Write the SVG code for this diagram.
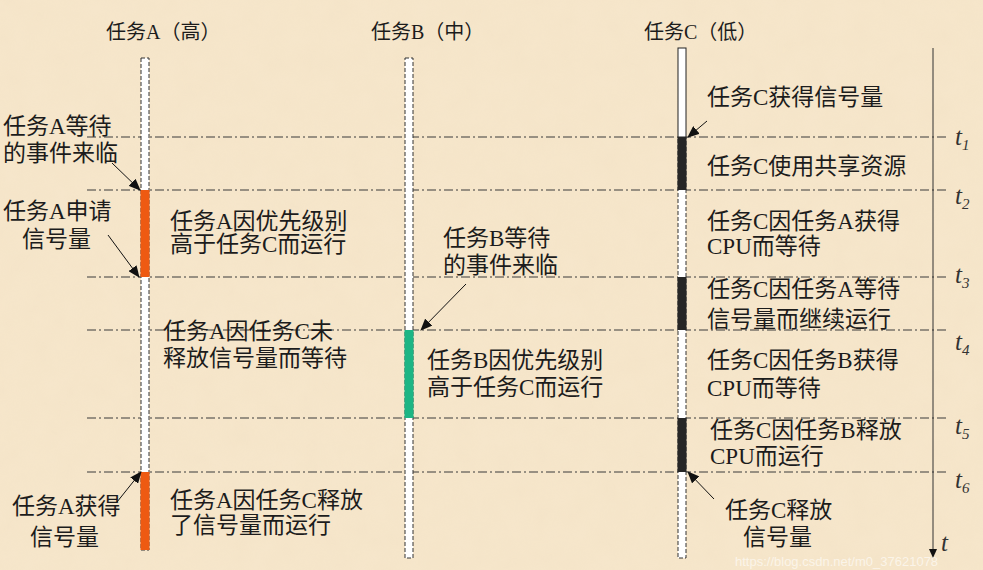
<svg xmlns="http://www.w3.org/2000/svg" width="983" height="570" viewBox="0 0 983 570">
<defs>
<style>
.txt{font-family:"Liberation Serif","Noto Sans CJK SC",serif;font-size:23px;fill:#1c1c1c}
.title{font-size:20px}
.tl{font-family:"Liberation Serif",serif;font-style:italic;font-size:25px;fill:#333}
.sub{font-size:15px}
.dd{stroke:#3a3a3a;stroke-width:1;stroke-dasharray:9 3 2 3;fill:none}
.lane{fill:#fff;stroke:#333;stroke-width:1;stroke-dasharray:4 2}
.solid{fill:#fff;stroke:#222;stroke-width:1}
.orange{fill:#EE5A12}
.green{fill:#1DB584}
.black{fill:#262626}
.arr{stroke:#111;stroke-width:1;fill:none;marker-end:url(#ah)}
.wm{font-family:"Liberation Sans",sans-serif;font-size:13px;fill:#fff;fill-opacity:0.6}
</style>
<marker id="ah" markerUnits="userSpaceOnUse" markerWidth="12" markerHeight="10" refX="11" refY="5" orient="auto"><path d="M0,0 L12,5 L0,10 Z" fill="#111"/></marker>
<filter id="paper" x="0" y="0" width="100%" height="100%">
<feTurbulence type="fractalNoise" baseFrequency="0.04" numOctaves="3" seed="7" result="n"/>
<feColorMatrix in="n" type="matrix" values="0 0 0 0 0.85  0 0 0 0 0.72  0 0 0 0 0.5  0 0 0 0.35 -0.05"/>
</filter>
</defs>
<rect width="983" height="570" fill="#F6E6CB"/>
<rect width="983" height="570" filter="url(#paper)" opacity="0.6"/>

<g id="timelines">
<line class="dd" x1="87" y1="137" x2="948" y2="137"/>
<line class="dd" x1="87" y1="190" x2="948" y2="190"/>
<line class="dd" x1="87" y1="277" x2="948" y2="277"/>
<line class="dd" x1="87" y1="330" x2="948" y2="330"/>
<line class="dd" x1="87" y1="418" x2="948" y2="418"/>
<line class="dd" x1="87" y1="472" x2="948" y2="472"/>
</g>

<g id="time-axis">
<line x1="933" y1="48" x2="933" y2="550" stroke="#333" stroke-width="1"/>
<path d="M929,549 L937,549 L933,558 Z" fill="#111"/>
<text class="tl" x="955" y="145">t<tspan class="sub" dy="5">1</tspan></text>
<text class="tl" x="955" y="204">t<tspan class="sub" dy="5">2</tspan></text>
<text class="tl" x="955" y="283">t<tspan class="sub" dy="5">3</tspan></text>
<text class="tl" x="955" y="350">t<tspan class="sub" dy="5">4</tspan></text>
<text class="tl" x="955" y="434">t<tspan class="sub" dy="5">5</tspan></text>
<text class="tl" x="955" y="488">t<tspan class="sub" dy="5">6</tspan></text>
<text class="tl" x="941" y="551">t</text>
</g>

<g id="taskA">
<text class="txt title" x="106" y="39">任务A（高）</text>
<rect class="lane" x="141" y="58" width="8" height="492"/>
<rect class="orange" x="140.5" y="190" width="9" height="87"/>
<rect class="orange" x="140.5" y="472" width="9" height="78"/>
</g>

<g id="taskB">
<text class="txt title" x="371" y="39">任务B（中）</text>
<rect class="lane" x="405" y="58" width="8" height="500"/>
<rect class="green" x="404.5" y="330" width="9" height="88"/>
</g>

<g id="taskC">
<text class="txt title" x="644" y="39">任务C（低）</text>
<rect class="lane" x="678" y="137" width="8" height="421"/>
<rect class="solid" x="678" y="48" width="8" height="89"/>
<rect class="black" x="677.5" y="137" width="9" height="53"/>
<rect class="black" x="677.5" y="277" width="9" height="53"/>
<rect class="black" x="677.5" y="418" width="9" height="54"/>
</g>

<g id="labels-left">
<text class="txt" x="3" y="134">任务A等待</text>
<text class="txt" x="3" y="161">的事件来临</text>
<text class="txt" x="3" y="219">任务A申请</text>
<text class="txt" x="22" y="247">信号量</text>
<text class="txt" x="12" y="514">任务A获得</text>
<text class="txt" x="30" y="545">信号量</text>
</g>

<g id="labels-mid">
<text class="txt" x="170" y="229">任务A因优先级别</text>
<text class="txt" x="170" y="252">高于任务C而运行</text>
<text class="txt" x="443" y="246">任务B等待</text>
<text class="txt" x="443" y="273">的事件来临</text>
<text class="txt" x="163" y="339">任务A因任务C未</text>
<text class="txt" x="163" y="366">释放信号量而等待</text>
<text class="txt" x="427" y="368">任务B因优先级别</text>
<text class="txt" x="427" y="395">高于任务C而运行</text>
<text class="txt" x="170" y="508">任务A因任务C释放</text>
<text class="txt" x="170" y="533">了信号量而运行</text>
</g>

<g id="labels-right">
<text class="txt" x="707" y="105">任务C获得信号量</text>
<text class="txt" x="707" y="174">任务C使用共享资源</text>
<text class="txt" x="707" y="229">任务C因任务A获得</text>
<text class="txt" x="707" y="254">CPU而等待</text>
<text class="txt" x="707" y="297">任务C因任务A等待</text>
<text class="txt" x="707" y="327">信号量而继续运行</text>
<text class="txt" x="707" y="368">任务C因任务B获得</text>
<text class="txt" x="707" y="396">CPU而等待</text>
<text class="txt" x="710" y="438">任务C因任务B释放</text>
<text class="txt" x="710" y="464">CPU而运行</text>
<text class="txt" x="725" y="518">任务C释放</text>
<text class="txt" x="743" y="545">信号量</text>
</g>

<g id="connectors">
<line class="arr" x1="112" y1="163" x2="140" y2="190"/>
<line class="arr" x1="108" y1="235" x2="139" y2="277"/>
<line class="arr" x1="117" y1="502" x2="141" y2="472"/>
<line class="arr" x1="466" y1="284" x2="421" y2="330"/>
<line class="arr" x1="707" y1="121" x2="688" y2="137"/>
<line class="arr" x1="714" y1="499" x2="688" y2="472"/>
</g>

<text class="wm" x="735" y="566">https://blog.csdn.net/m0_37621078</text>
</svg>
